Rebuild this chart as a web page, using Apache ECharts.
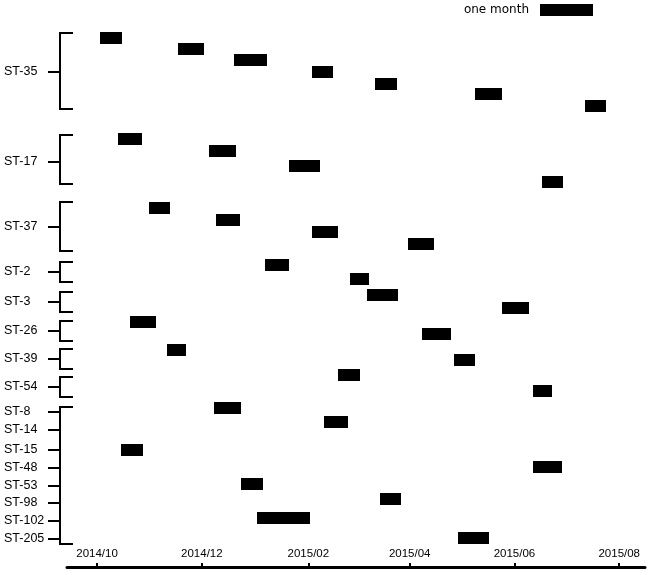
<!DOCTYPE html>
<html>
<head>
<meta charset="utf-8">
<script src="https://cdn.jsdelivr.net/npm/echarts@6/dist/echarts.min.js"></script>
<style>html,body{margin:0;padding:0;background:#fff;}#c{width:650px;height:575px;}</style>
</head>
<body>
<div id="c"></div>
<script>
// ---- data ----
const strainNames = ['ST-35','ST-17','ST-37','ST-2','ST-3','ST-26','ST-39','ST-54','ST-8','ST-14','ST-15','ST-48','ST-53','ST-98','ST-102','ST-205'];
const strainPos = [4.2,13.2,19.7,24.2,27.2,30.1,32.9,35.7,38.2,40.0,42.0,43.8,45.6,47.3,49.1,50.9];
const bracketStart = [0.3,10.5,17.2,23.2,26.2,29.1,31.9,34.7,37.7];
const bracketEnd = [7.9,15.4,22.1,25.2,28.2,31.1,33.9,36.7,51.4];

const barStrain = ['ST-35','ST-35','ST-35','ST-35','ST-35','ST-35','ST-35','ST-17','ST-17','ST-17','ST-17','ST-37','ST-37','ST-37','ST-37','ST-2','ST-2','ST-3','ST-3','ST-26','ST-26','ST-39','ST-39','ST-54','ST-54','ST-8','ST-14','ST-15','ST-48','ST-53','ST-98','ST-102','ST-205'];
const barStart = ['2014-10-03','2014-11-17','2014-12-20','2015-02-03','2015-03-12','2015-05-09','2015-07-12','2014-10-13','2014-12-05','2015-01-21','2015-06-17','2014-10-31','2014-12-09','2015-02-03','2015-03-31','2015-01-07','2015-02-25','2015-03-07','2015-05-25','2014-10-20','2015-04-08','2014-11-11','2015-04-27','2015-02-18','2015-06-12','2014-12-08','2015-02-10','2014-10-15','2015-06-12','2014-12-24','2015-03-15','2015-01-02','2015-04-29'];
const barEnd = ['2014-10-16','2014-12-02','2015-01-08','2015-02-15','2015-03-25','2015-05-25','2015-07-24','2014-10-27','2014-12-21','2015-02-08','2015-06-29','2014-11-12','2014-12-23','2015-02-18','2015-04-15','2015-01-21','2015-03-08','2015-03-25','2015-06-10','2014-11-04','2015-04-25','2014-11-22','2015-05-09','2015-03-03','2015-06-23','2014-12-24','2015-02-24','2014-10-28','2015-06-29','2015-01-06','2015-03-27','2015-02-02','2015-05-17'];
const barLane = [0.75,1.85,3.0,4.15,5.35,6.4,7.6, 10.9,12.1,13.6,15.15, 17.75,19.0,20.15,21.4, 23.5,24.9, 26.5,27.8, 29.2,30.35, 32.0,33.0, 34.5,36.1, 37.75,39.15,42.0,43.7,45.35,46.9,48.75,50.8];

const xTickDates = ['2014-10-01','2014-12-01','2015-02-01','2015-04-01','2015-06-01','2015-08-01'];
const xTickLabels = ['2014/10','2014/12','2015/02','2015/04','2015/06','2015/08'];

const scaleLabel = 'one month';
const scaleStart = '2015-06-16';
const scaleEnd = '2015-07-17';
const scaleLane = -2;

// ---- helpers ----
function t(s){ const p = s.split('-').map(Number); return Date.UTC(p[0], p[1]-1, p[2]); }
const xTickTs = xTickDates.map(t);

const barData = barStart.map((s,i)=>[t(s), t(barEnd[i]), barLane[i], barStrain[i]]);
const bracketData = bracketStart.map((s,i)=>[t('2014-10-01'), s, bracketEnd[i]]);

const chart = echarts.init(document.getElementById('c'), null, {renderer:'canvas'});

function renderBar(params, api){
  const s = api.coord([api.value(0), api.value(2)]);
  const e = api.coord([api.value(1), api.value(2)]);
  const h = api.size([0, 1.15])[1];
  return {type:'rect', shape:{x:Math.round(s[0]), y:Math.round(s[1]-h/2), width:Math.round(e[0]-s[0]), height:Math.round(h)}, style:{fill:'#000'}};
}

function renderBracket(params, api){
  const cs = params.coordSys;
  const y1 = Math.round(api.coord([api.value(0), api.value(1)])[1]);
  const y2 = Math.round(api.coord([api.value(0), api.value(2)])[1]);
  const xv = cs.x - 7, xa = cs.x + 6;
  const st = {stroke:'#000', lineWidth:2, fill:null};
  return {type:'group', children:[
    {type:'line', shape:{x1:xv, y1:y1-1, x2:xv, y2:y2+1}, style:st},
    {type:'line', shape:{x1:xv, y1:y1, x2:xa, y2:y1}, style:st},
    {type:'line', shape:{x1:xv, y1:y2, x2:xa, y2:y2}, style:st}
  ]};
}

function renderScale(params, api){
  const s = api.coord([api.value(0), api.value(2)]);
  const e = api.coord([api.value(1), api.value(2)]);
  const h = api.size([0, 1.15])[1];
  return {type:'group', children:[
    {type:'rect', shape:{x:Math.round(s[0]), y:Math.round(s[1]-h/2), width:Math.round(e[0]-s[0]), height:Math.round(h)}, style:{fill:'#000'}},
    {type:'text', x:Math.round(s[0])-11, y:Math.round(s[1]), style:{text:scaleLabel, fill:'#000', font:'12px "DejaVu Sans"', align:'right', verticalAlign:'middle'}}
  ]};
}

function nearestLabel(v, pos, names){
  let best=-1, d=1e18;
  pos.forEach((p,i)=>{ const dd=Math.abs(p-v); if(dd<d){d=dd; best=i;} });
  return names[best];
}

const option = {
  animation:false,
  backgroundColor:'#fff',
  grid:{left:67, right:5, top:30, height:537},
  xAxis:{
    type:'value',
    min: Date.UTC(2014, 8, 13, 12),
    max: Date.UTC(2015, 7, 16),
    axisLine:{show:true, onZero:false, lineStyle:{color:'#000', width:3}},
    axisTick:{show:true, inside:true, length:4, customValues:xTickTs, lineStyle:{color:'#000', width:2}},
    axisLabel:{show:true, inside:true, margin:7, customValues:xTickTs, showMinLabel:true, showMaxLabel:true, color:'#000', fontFamily:'"Liberation Sans", Arial, sans-serif', fontSize:11.5,
      formatter:function(v){ return nearestLabel(v, xTickTs, xTickLabels); }},
    splitLine:{show:false}
  },
  yAxis:{
    type:'value', inverse:true, min:0, max:53.7, offset:7,
    axisLine:{show:false},
    axisTick:{show:true, length:12, customValues:strainPos, lineStyle:{color:'#000', width:2}},
    axisLabel:{show:true, align:'left', margin:56, padding:[3,0,0,0], customValues:strainPos, color:'#000', fontFamily:'"Liberation Sans", Arial, sans-serif', fontSize:12.5,
      formatter:function(v){ return nearestLabel(v, strainPos, strainNames); }},
    splitLine:{show:false}
  },
  series:[
    {type:'custom', name:'brackets', renderItem:renderBracket, clip:false, data:bracketData, encode:{x:0, y:[1,2]}},
    {type:'custom', name:'bars', renderItem:renderBar, clip:false, data:barData, encode:{x:[0,1], y:2}},
    {type:'custom', name:'scale', renderItem:renderScale, clip:false, data:[[t(scaleStart), t(scaleEnd), scaleLane]], encode:{x:[0,1], y:2}}
  ]
};
chart.setOption(option);
</script>
</body>
</html>
